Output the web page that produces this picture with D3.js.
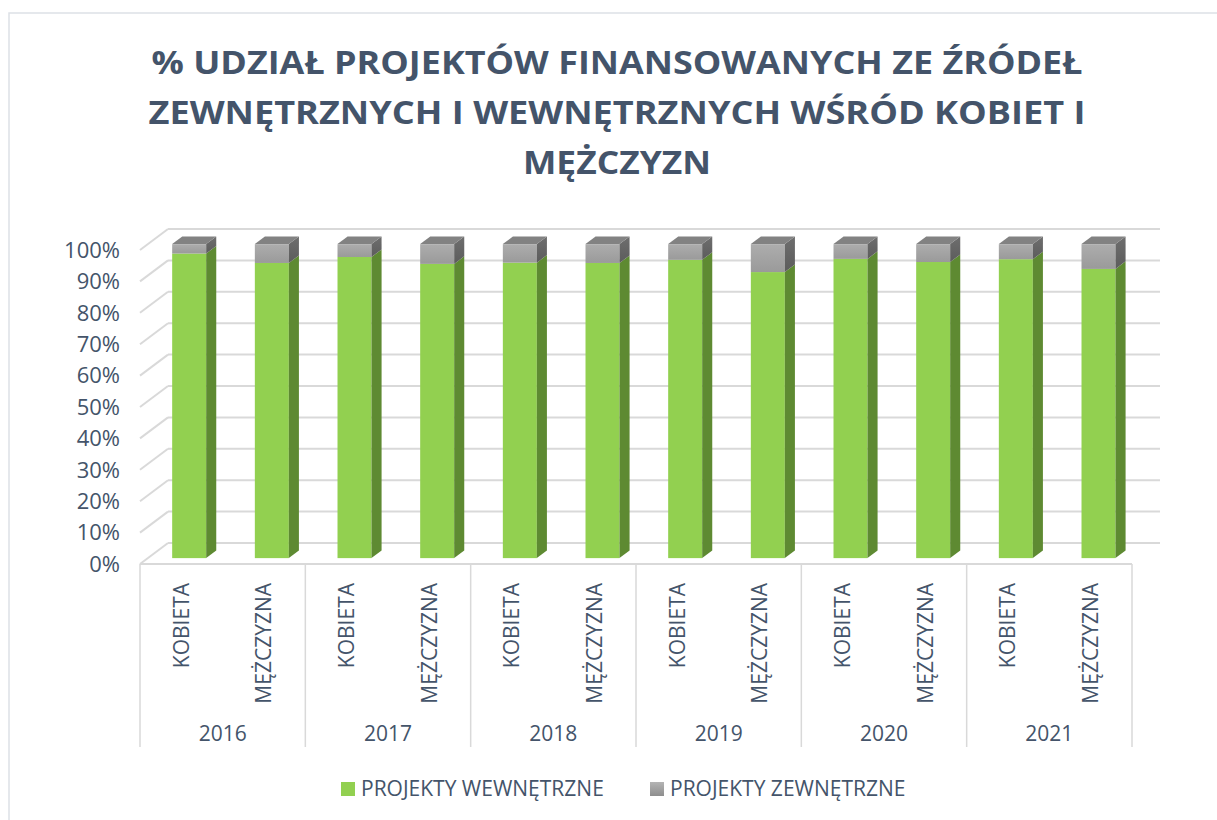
<!DOCTYPE html>
<html>
<head>
<meta charset="utf-8">
<script src="https://cdn.jsdelivr.net/npm/d3@7"></script>
<style>
  body { margin: 0; background: #fff; }
  svg { display: block; font-family: "Open Sans", sans-serif; }
</style>
</head>
<body>
<svg id="chart" width="1217" height="820"></svg>
<script>
const years = ['2016', '2017', '2018', '2019', '2020', '2021'];
const genders = ['KOBIETA', 'MĘŻCZYZNA'];
// share of internally funded projects (%), per year: [kobieta, mężczyzna]
const internal = [
    [97.0, 94.0],
    [95.9, 93.7],
    [94.1, 94.0],
    [95.0, 91.1],
    [95.3, 94.3],
    [95.2, 92.1]
];
const yTicks = [0, 10, 20, 30, 40, 50, 60, 70, 80, 90, 100];
const titleLines = [
    '% UDZIAŁ PROJEKTÓW FINANSOWANYCH ZE ŹRÓDEŁ',
    'ZEWNĘTRZNYCH I WEWNĘTRZNYCH WŚRÓD KOBIET I',
    'MĘŻCZYZN'
];
const seriesNames = ['PROJEKTY WEWNĘTRZNE', 'PROJEKTY ZEWNĘTRZNE'];

const textColor = '#44546A';
const gridColor = '#d9d9d9';

// rows for each bar
const rows = [];
years.forEach((yr, i) => {
    genders.forEach((g, j) => {
        rows.push({ key: yr + '-' + g, year: yr, gender: g, inner: internal[i][j], outer: 100 - internal[i][j] });
    });
});

const svg = d3.select('#chart');

// defs: gradients
const defs = svg.append('defs');
function vGrad(id, c1, c2) {
    const g = defs.append('linearGradient').attr('id', id)
        .attr('x1', 0).attr('y1', 0).attr('x2', 0).attr('y2', 1);
    g.append('stop').attr('offset', '0%').attr('stop-color', c1);
    g.append('stop').attr('offset', '100%').attr('stop-color', c2);
}
vGrad('greyFront', '#adadad', '#9a9a9a');
vGrad('greySide', '#6e6e6e', '#5c5c5c');
vGrad('greyLegend', '#b4b4b4', '#8e8e8e');

// chart border
svg.append('rect')
    .attr('x', 9).attr('y', 13)
    .attr('width', 1240).attr('height', 840)
    .attr('fill', 'none')
    .attr('stroke', '#dde1e6')
    .attr('stroke-width', 1.5);

// title
const title = svg.append('g').attr('class', 'title');
const titleWidths = [931, 937, 188];
titleLines.forEach((t, i) => {
    title.append('text')
        .attr('x', 617)
        .attr('y', 74 + i * 50)
        .attr('text-anchor', 'middle')
        .attr('font-size', 32)
        .attr('font-weight', 700)
        .attr('fill', textColor)
        .attr('textLength', titleWidths[i])
        .attr('lengthAdjust', 'spacingAndGlyphs')
        .text(t);
});

// geometry
const left = 140, right = 1132;
const depth = { dx: 28, dy: -21 };
const barT0 = 0.28, barT1 = 0.64;
const barW = 34;

const x = d3.scaleBand().domain(rows.map(d => d.key)).range([left, right]).padding(0);
const y = d3.scaleLinear().domain([0, 100]).range([564, 250]);

// walls: gridlines on back wall and left wall
const grid = svg.append('g').attr('class', 'grid');
grid.selectAll('.back')
    .data(yTicks)
    .enter().append('line')
    .attr('x1', left + depth.dx).attr('x2', right + depth.dx)
    .attr('y1', d => y(d) + depth.dy).attr('y2', d => y(d) + depth.dy)
    .attr('stroke', gridColor).attr('stroke-width', 2);
grid.selectAll('.side')
    .data(yTicks)
    .enter().append('line')
    .attr('x1', left).attr('y1', d => y(d))
    .attr('x2', left + depth.dx).attr('y2', d => y(d) + depth.dy)
    .attr('stroke', gridColor).attr('stroke-width', 2);

// y tick labels
svg.append('g').selectAll('text')
    .data(yTicks)
    .enter().append('text')
    .attr('x', 120)
    .attr('y', d => y(d))
    .attr('dy', '0.35em')
    .attr('text-anchor', 'end')
    .attr('font-size', 22)
    .attr('fill', textColor)
    .text(d => d + '%');

// bars
const pts = arr => arr.map(p => p.join(',')).join(' ');
const bars = svg.append('g').attr('class', 'bars');
rows.forEach(d => {
    const fx = x(d.key) + x.bandwidth() / 2 + depth.dx * barT0 - barW / 2;
    const oy = depth.dy * barT0;
    const sx = depth.dx * (barT1 - barT0), sy = depth.dy * (barT1 - barT0);
    const yb = y(0) + oy;
    const yg = y(d.inner) + oy;
    const yt = y(100) + oy;
    const g = bars.append('g');

    // green segment
    g.append('rect')
        .attr('x', fx).attr('y', yg)
        .attr('width', barW).attr('height', yb - yg)
        .attr('fill', '#92d050');
    g.append('polygon')
        .attr('points', pts([[fx + barW, yb], [fx + barW + sx, yb + sy], [fx + barW + sx, yg + sy], [fx + barW, yg]]))
        .attr('fill', '#5e8a32');

    // grey segment
    g.append('rect')
        .attr('x', fx).attr('y', yt)
        .attr('width', barW).attr('height', yg - yt)
        .attr('fill', 'url(#greyFront)');
    g.append('polygon')
        .attr('points', pts([[fx + barW, yg], [fx + barW + sx, yg + sy], [fx + barW + sx, yt + sy], [fx + barW, yt]]))
        .attr('fill', 'url(#greySide)');
    g.append('polygon')
        .attr('points', pts([[fx, yt], [fx + barW, yt], [fx + barW + sx, yt + sy], [fx + sx, yt + sy]]))
        .attr('fill', '#828282');
});

// category axis
const axis = svg.append('g').attr('class', 'x-axis');
axis.append('line')
    .attr('x1', left).attr('x2', right)
    .attr('y1', y(0)).attr('y2', y(0))
    .attr('stroke', gridColor).attr('stroke-width', 2);

const yearBounds = years.map(yr => x(yr + '-' + genders[0]));
yearBounds.push(right);
axis.selectAll('.sep')
    .data(yearBounds)
    .enter().append('line')
    .attr('x1', d => d).attr('x2', d => d)
    .attr('y1', y(0)).attr('y2', 747)
    .attr('stroke', gridColor).attr('stroke-width', 1.5);

axis.selectAll('.cat')
    .data(rows)
    .enter().append('text')
    .attr('transform', d => `translate(${x(d.key) + x.bandwidth() / 2},583) rotate(-90)`)
    .attr('dy', '0.35em')
    .attr('text-anchor', 'end')
    .attr('font-size', 21)
    .attr('fill', textColor)
    .text(d => d.gender);

axis.selectAll('.year')
    .data(years)
    .enter().append('text')
    .attr('x', d => x(d + '-' + genders[0]) + x.bandwidth())
    .attr('y', 741)
    .attr('text-anchor', 'middle')
    .attr('font-size', 21)
    .attr('fill', textColor)
    .text(d => d);

// legend
const legend = svg.append('g').attr('class', 'legend');
const legendX = [341, 650];
const legendFill = ['#92d050', 'url(#greyLegend)'];
seriesNames.forEach((name, i) => {
    legend.append('rect')
        .attr('x', legendX[i]).attr('y', 782)
        .attr('width', 14).attr('height', 14)
        .attr('fill', legendFill[i]);
    legend.append('text')
        .attr('x', legendX[i] + 20)
        .attr('y', 796)
        .attr('font-size', 21)
        .attr('fill', textColor)
        .text(name);
});
</script>
</body>
</html>
